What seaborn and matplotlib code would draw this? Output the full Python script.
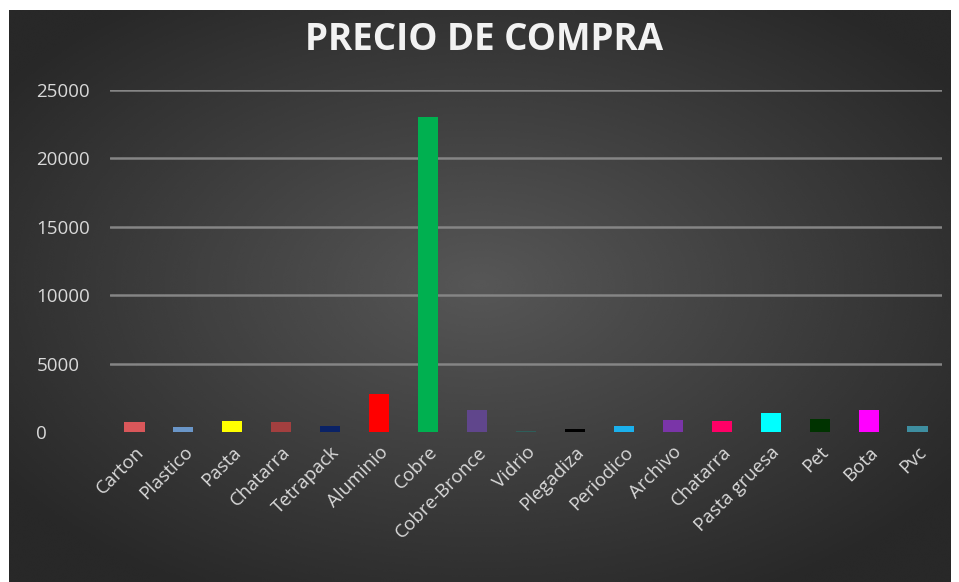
import numpy as np
import pandas as pd
import seaborn as sns
import matplotlib.pyplot as plt

# data
materiales = ['Carton', 'Plastico', 'Pasta', 'Chatarra', 'Tetrapack', 'Aluminio',
              'Cobre', 'Cobre-Bronce', 'Vidrio', 'Plegadiza', 'Periodico', 'Archivo',
              'Chatarra', 'Pasta gruesa', 'Pet', 'Bota', 'Pvc']
precios = [700, 350, 800, 700, 450, 2800, 23000, 1600, 50, 250, 450, 900,
           800, 1400, 950, 1600, 450]
colores = ['#D9575A', '#6A96C8', '#FFFF00', '#A33F3F', '#0A2266', '#FF0000',
           '#00B050', '#60468C', '#2E5E5A', '#000000', '#1BB0EC', '#7A35A8',
           '#FF0066', '#00FFFF', '#003300', '#FF00FF', '#3E8EA0']
yticks = [0, 5000, 10000, 15000, 20000, 25000]

sns.set_theme(style='dark')
plt.rcParams['font.family'] = ['Open Sans', 'DejaVu Sans']

df = pd.DataFrame({'key': [str(i) for i in range(len(materiales))],
                   'material': materiales, 'precio': precios})

W, H = 959, 582
fig = plt.figure(figsize=(W / 100, H / 100), dpi=100, facecolor='white')

# dark radial background
bg = fig.add_axes([9 / W, 0, (951 - 9) / W, 572 / H])
yy, xx = np.mgrid[0:1:300j, 0:1:500j]
r = np.sqrt(((xx - 0.5) / 0.75) ** 2 + ((yy - 0.48) / 0.75) ** 2)
shade = np.clip(0.34 - 0.17 * r / r.max() * 1.25, 0.16, 0.34)
bg.imshow(shade, cmap='gray', vmin=0, vmax=1, aspect='auto',
          extent=[0, 1, 0, 1], interpolation='bicubic')
bg.set_axis_off()

ax = fig.add_axes([110 / W, 1 - 432 / H, (942 - 110) / W, (432 - 90) / H])
ax.patch.set_alpha(0)
sns.barplot(data=df, x='key', y='precio', hue='key', palette=colores,
            legend=False, width=0.41, ax=ax, saturation=1,
            edgecolor='none', linewidth=0)

ax.set_ylim(0, 25000)
ax.set_yticks(yticks)
ax.set_yticklabels([str(v) for v in yticks])
for v in yticks[1:]:
    ax.axhline(v, color='#858585', lw=1.8, zorder=0)
ax.grid(False)
for s in ax.spines.values():
    s.set_visible(False)

ax.tick_params(axis='y', length=0, pad=53, labelsize=13.5, labelcolor='#d9d9d9')
for t in ax.get_yticklabels():
    t.set_horizontalalignment('left')
ax.set_xticks(range(len(materiales)))
ax.set_xticklabels(materiales, rotation=45, ha='right', rotation_mode='anchor')
ax.tick_params(axis='x', length=0, pad=8, labelsize=13.5, labelcolor='#d9d9d9')
ax.set_xlabel('')
ax.set_ylabel('')

fig.text(484 / W, 1 - 40 / H, 'PRECIO DE COMPRA', ha='center', va='center',
         fontsize=26.5, fontweight='bold', color='#f2f2f2')

fig.savefig('out.png', dpi=100, facecolor='white')
